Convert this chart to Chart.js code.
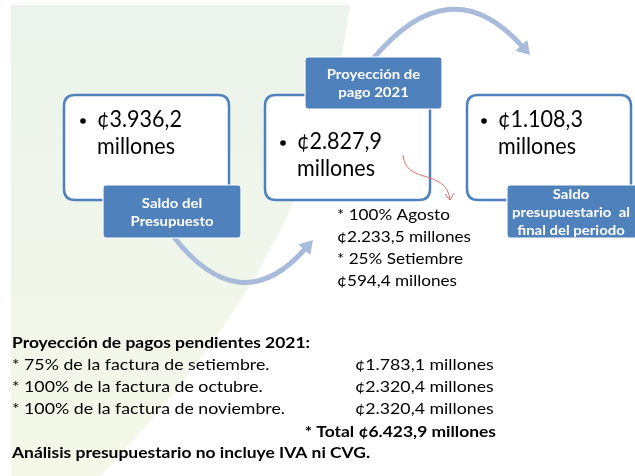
<!DOCTYPE html>
<html>
<head>
<meta charset="utf-8">
<script src="https://cdn.jsdelivr.net/npm/chart.js@4.4.1/dist/chart.umd.min.js"></script>
<style>
  html, body { margin: 0; padding: 0; background: #fff; overflow: hidden; }
  canvas { display: block; }
</style>
</head>
<body>
<canvas id="diagram" width="635" height="476"></canvas>
<script>
// data
const stageLabels = ['Saldo del\nPresupuesto', 'Proyección de\npago 2021', 'Saldo\npresupuestario  al\nfinal del periodo'];
const stageAmounts = [3936.2, 2827.9, 1108.3];
const detailItems = ['100% Agosto', '25% Setiembre'];
const detailAmounts = [2233.5, 594.4];
const pendingTitle = 'Proyección de pagos pendientes 2021:';
const pendingItems = ['75% de la factura de setiembre.', '100% de la factura de octubre.', '100% de la factura de noviembre.'];
const pendingAmounts = [1783.1, 2320.4, 2320.4];
const pendingTotal = 6423.9;
const footNote = 'Análisis presupuestario no incluye IVA ni CVG.';

const BLUE = '#4F81BD';
const ARROW = '#A9BBDB';
const FONT = 'Lato, "Open Sans", sans-serif';

function fmt(v) {
    const parts = v.toFixed(1).split('.');
    return '¢' + parts[0].replace(/\B(?=(\d{3})+(?!\d))/g, '.') + ',' + parts[1];
}

function roundRect(ctx, x, y, w, h, r) {
    ctx.beginPath();
    ctx.moveTo(x + r, y);
    ctx.lineTo(x + w - r, y);
    ctx.quadraticCurveTo(x + w, y, x + w, y + r);
    ctx.lineTo(x + w, y + h - r);
    ctx.quadraticCurveTo(x + w, y + h, x + w - r, y + h);
    ctx.lineTo(x + r, y + h);
    ctx.quadraticCurveTo(x, y + h, x, y + h - r);
    ctx.lineTo(x, y + r);
    ctx.quadraticCurveTo(x, y, x + r, y);
    ctx.closePath();
}

// horizontal squeeze so Lato takes roughly the width Calibri had
const squeeze = {};
function scaleFor(ctx, key, font, ref, width) {
    if (!squeeze[key]) {
        ctx.font = font;
        squeeze[key] = width / ctx.measureText(ref).width;
    }
    return squeeze[key];
}

function text(ctx, s, x, y, font, sx, align, color) {
    ctx.save();
    ctx.font = font;
    ctx.fillStyle = color || '#000';
    ctx.textBaseline = 'middle';
    ctx.textAlign = align || 'left';
    ctx.translate(x, y);
    ctx.scale(sx, 1);
    ctx.fillText(s, 0, 0);
    ctx.restore();
}

function thickArrow(ctx, p0, c, p1) {
    const dx = p1[0] - c[0], dy = p1[1] - c[1];
    const len = Math.hypot(dx, dy);
    const ux = dx / len, uy = dy / len;
    const head = 13, half = 8;
    const bx = p1[0] - ux * head, by = p1[1] - uy * head;
    ctx.save();
    ctx.strokeStyle = ARROW;
    ctx.lineWidth = 5;
    ctx.beginPath();
    ctx.moveTo(p0[0], p0[1]);
    ctx.quadraticCurveTo(c[0], c[1], bx + ux, by + uy);
    ctx.stroke();
    ctx.fillStyle = ARROW;
    ctx.beginPath();
    ctx.moveTo(p1[0], p1[1]);
    ctx.lineTo(bx - uy * half, by + ux * half);
    ctx.lineTo(bx + uy * half, by - ux * half);
    ctx.closePath();
    ctx.fill();
    ctx.restore();
}

const slidePlugin = {
    id: 'slide',
    beforeDraw(chart) {
        const ctx = chart.ctx;
        const X = v => chart.scales.x.getPixelForValue(v);
        const Y = v => chart.scales.y.getPixelForValue(v);

        ctx.save();
        ctx.fillStyle = '#fff';
        ctx.fillRect(0, 0, chart.width, chart.height);
        const g = ctx.createLinearGradient(0, Y(5), 0, Y(476));
        g.addColorStop(0, '#EBF3EC');
        g.addColorStop(1, '#F5F8E8');
        ctx.fillStyle = g;
        ctx.beginPath();
        ctx.moveTo(X(11), Y(5));
        ctx.lineTo(X(350), Y(5));
        ctx.quadraticCurveTo(X(320), Y(250), X(100), Y(476));
        ctx.lineTo(X(11), Y(476));
        ctx.closePath();
        ctx.fill();
        ctx.restore();
    },
    afterDraw(chart) {
        const ctx = chart.ctx;
        const X = v => chart.scales.x.getPixelForValue(v);
        const Y = v => chart.scales.y.getPixelForValue(v);
        const P = (a, b) => [X(a), Y(b)];

        // flow arrows (drawn first, the labels sit over their tails)
        thickArrow(ctx, P(173, 236), P(240, 322), P(313, 240));
        thickArrow(ctx, P(372, 60), P(450, -34), P(530, 55));

        const boxes = [
            { x: 64, y: 95, w: 165, h: 105, tx: 97, ty: 120, lx: 103, ly: 185, lw: 138, lh: 53 },
            { x: 265, y: 95, w: 165, h: 105, tx: 297, ty: 142, lx: 305, ly: 57, lw: 137, lh: 52 },
            { x: 467, y: 95, w: 164, h: 105, tx: 498, ty: 120, lx: 507, ly: 185, lw: 132, lh: 53 }
        ];

        const valFont = '23px ' + FONT;
        const labFont = 'bold 13.5px ' + FONT;
        const sVal = scaleFor(ctx, 'val', valFont, '¢3.936,2', 85);
        const sLab = scaleFor(ctx, 'lab', labFont, 'Presupuesto', 83);

        boxes.forEach((b, i) => {
            ctx.save();
            roundRect(ctx, X(b.x), Y(b.y), b.w, b.h, 11);
            ctx.fillStyle = '#fff';
            ctx.fill();
            ctx.lineWidth = 2.5;
            ctx.strokeStyle = BLUE;
            ctx.stroke();
            ctx.fillStyle = '#000';
            ctx.beginPath();
            ctx.arc(X(b.tx - 14), Y(b.ty + 1), 2.8, 0, Math.PI * 2);
            ctx.fill();
            ctx.restore();

            text(ctx, fmt(stageAmounts[i]), X(b.tx), Y(b.ty), valFont, sVal);
            text(ctx, 'millones', X(b.tx), Y(b.ty + 27), valFont, sVal);
        });

        boxes.forEach((b, i) => {
            ctx.save();
            roundRect(ctx, X(b.lx), Y(b.ly), b.lw, b.lh, 3);
            ctx.fillStyle = BLUE;
            ctx.fill();
            ctx.lineWidth = 1.2;
            ctx.strokeStyle = '#fff';
            ctx.stroke();
            ctx.restore();
            const lines = stageLabels[i].split('\n');
            const step = 18;
            const top = b.ly + b.lh / 2 - (lines.length - 1) * step / 2 + 1;
            lines.forEach((ln, k) => {
                text(ctx, ln, X(b.lx + b.lw / 2 - (i === 2 ? 2 : 0)), Y(top + k * step), labFont, sLab, 'center', '#fff');
            });
        });

        // red pointer from the middle box to its breakdown
        ctx.save();
        ctx.strokeStyle = '#D9736C';
        ctx.lineWidth = 1;
        ctx.beginPath();
        ctx.moveTo(X(403), Y(155));
        ctx.bezierCurveTo(X(405), Y(185), X(447), Y(168), X(450), Y(200));
        ctx.stroke();
        ctx.beginPath();
        ctx.moveTo(X(445), Y(194));
        ctx.lineTo(X(450), Y(200));
        ctx.lineTo(X(454), Y(193));
        ctx.stroke();
        ctx.restore();

        // breakdown under the middle box
        const detFont = '16px ' + FONT;
        const sDet = scaleFor(ctx, 'det', detFont, '¢2.233,5 millones', 134);
        detailItems.forEach((it, k) => {
            text(ctx, '* ' + it, X(337), Y(215 + k * 44), detFont, sDet);
            text(ctx, fmt(detailAmounts[k]) + ' millones', X(337), Y(237 + k * 44), detFont, sDet);
        });

        // pending payments block
        const bodyFont = '16px ' + FONT;
        const boldFont = 'bold 16px ' + FONT;
        const sBody = scaleFor(ctx, 'body', bodyFont, '* 100% de la factura de noviembre.', 273);
        const sBold = scaleFor(ctx, 'bold', boldFont, pendingTitle, 298);
        text(ctx, pendingTitle, X(12), Y(343), boldFont, sBold);
        pendingItems.forEach((it, k) => {
            text(ctx, '* ' + it, X(12), Y(365 + k * 22), bodyFont, sBody);
            text(ctx, fmt(pendingAmounts[k]) + ' millones', X(355), Y(365 + k * 22), bodyFont, sBody);
        });
        text(ctx, '* Total ' + fmt(pendingTotal) + ' millones', X(496), Y(432), boldFont, sBold, 'right');
        text(ctx, footNote, X(12), Y(453), boldFont, sBold);
    }
};

new Chart(document.getElementById('diagram'), {
    type: 'scatter',
    data: { datasets: [] },
    options: {
        responsive: false,
        animation: false,
        layout: { padding: 0 },
        plugins: { legend: { display: false }, tooltip: { enabled: false } },
        scales: {
            x: { type: 'linear', min: 0, max: 635, display: false },
            y: { type: 'linear', min: 0, max: 476, reverse: true, display: false }
        }
    },
    plugins: [slidePlugin]
});
</script>
</body>
</html>
